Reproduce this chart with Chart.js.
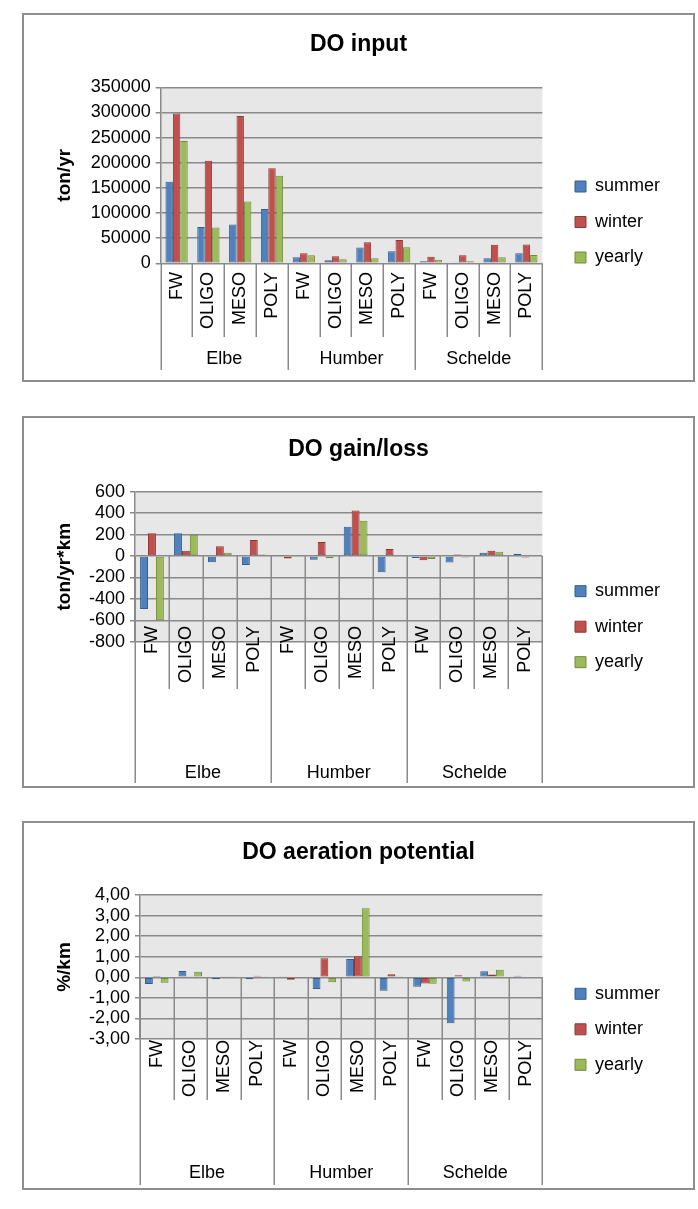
<!DOCTYPE html>
<html>
<head>
<meta charset="utf-8">
<script src="https://cdn.jsdelivr.net/npm/chart.js@4.4.1/dist/chart.umd.min.js"></script>
<style>
  html, body { margin: 0; padding: 0; background: #fff; width: 698px; height: 1209px; overflow: hidden; }
  .box { position: absolute; left: 22px; width: 673px; border: 2px solid #8e8e8e; box-sizing: border-box; background: #fff; }
  .box canvas { position: absolute; left: 0; top: 0; }
</style>
</head>
<body>
<div class="box" style="top:13px;height:369px"><canvas id="c1" width="669" height="365"></canvas></div>
<div class="box" style="top:416px;height:372px"><canvas id="c2" width="669" height="368"></canvas></div>
<div class="box" style="top:821px;height:369px"><canvas id="c3" width="669" height="365"></canvas></div>
<script>
// ---------- data ----------
const stages = ['FW', 'OLIGO', 'MESO', 'POLY'];
const estuaries = ['Elbe', 'Humber', 'Schelde'];
const seriesNames = ['summer', 'winter', 'yearly'];

// DO input (ton/yr)
const inputSummer = [162000, 72000, 77000, 108000, 12000, 6000, 31500, 24000, 4000, 2000, 10000, 20000];
const inputWinter = [298000, 204000, 293000, 189000, 20000, 14000, 42000, 46500, 13000, 16000, 37000, 37500];
const inputYearly = [243000, 71000, 123000, 174000, 16000, 8000, 10000, 32000, 7000, 4000, 12000, 16500];
const inputAxis = [0, 350000, 50000];      // min, max, step

// DO gain/loss (ton/yr*km)
const gainSummer = [-495, 212, -58, -84, 9, -35, 273, -151, -18, -60, 30, 20];
const gainWinter = [212, 48, 91, 149, -23, 130, 425, 66, -40, 15, 50, -14];
const gainYearly = [-600, 198, 31, 13, -4, -22, 328, 6, -27, -13, 40, -8];
const gainAxis = [-800, 600, 200];

// DO aeration potential (%/km)
const aerSummer = [-0.33, 0.30, -0.09, -0.09, 0.03, -0.57, 0.89, -0.65, -0.46, -2.23, 0.29, 0.08];
const aerWinter = [0.06, 0.02, 0.05, 0.08, -0.12, 0.93, 1.02, 0.15, -0.30, 0.10, 0.13, -0.03];
const aerYearly = [-0.26, 0.27, 0.02, 0.02, -0.02, -0.24, 3.35, 0.02, -0.32, -0.21, 0.37, -0.03];
const aerAxis = [-3, 4, 1];

// ---------- styles ----------
const fills = ['#4F81BD', '#C0504D', '#9BBB59'];
const borders = ['#385D8A', '#8C3836', '#71893F'];
const GRID = '#8a8a8a';
const FONT = '"Liberation Sans", Arial, sans-serif';
const LEGEND_LEFT = 533.5;   // canvas x where legend box starts

Chart.defaults.font.family = FONT;
Chart.defaults.font.size = 18;
Chart.defaults.color = '#000';

const excelAxis = {
  id: 'excelAxis',
  beforeDraw(chart, args, o) {
    const { ctx, chartArea: a } = chart;
    ctx.save();
    ctx.fillStyle = o.plotBg;
    ctx.fillRect(a.left, a.top, a.right - a.left, a.bottom - a.top);
    ctx.restore();
  },
  afterDraw(chart, args, o) {
    const { ctx, chartArea: a } = chart;
    const x = chart.scales.x, y = chart.scales.y;
    const n = chart.data.labels.length;
    const step = x.getPixelForValue(1) - x.getPixelForValue(0);
    const x0 = x.getPixelForValue(0) - step / 2;
    const y0 = y.getPixelForValue(0);
    ctx.save();
    ctx.strokeStyle = GRID;
    ctx.lineWidth = 1.5;
    for (let i = 0; i <= n; i++) {
      const px = Math.round(x0 + i * step) + 0.25;
      const grp = i % stages.length === 0;
      ctx.beginPath();
      ctx.moveTo(px, y0);
      ctx.lineTo(px, a.bottom + (grp ? o.groupEnd : o.innerEnd));
      ctx.stroke();
    }
    ctx.fillStyle = '#000';
    ctx.font = '18px ' + FONT;
    ctx.textAlign = 'right';
    ctx.textBaseline = 'middle';
    chart.data.labels.forEach((lab, i) => {
      ctx.save();
      ctx.translate(x.getPixelForValue(i), a.bottom + o.labelTop);
      ctx.rotate(-Math.PI / 2);
      ctx.fillText(lab[0], 0, 0);
      ctx.restore();
    });
    ctx.textAlign = 'center';
    estuaries.forEach((e, g) => {
      const cx = x0 + (g + 0.5) * stages.length * step;
      ctx.fillText(e, cx, a.bottom + o.groupLabelY);
    });
    ctx.restore();
  }
};

function build(id, o) {
  const labels = estuaries.flatMap(e => stages.map(s => [s, e]));
  const canvas = document.getElementById(id);
  const cssW = canvas.width;
  return new Chart(canvas, {
    type: 'bar',
    data: {
      labels,
      datasets: o.series.map((vals, k) => ({
        label: seriesNames[k],
        data: vals,
        backgroundColor: fills[k],
        borderColor: borders[k],
        borderWidth: 1,
        borderSkipped: false,
        categoryPercentage: 0.7,
        barPercentage: 1,
        xAxisID: 'x',
        yAxisID: 'y'
      }))
    },
    options: {
      responsive: false,
      animation: false,
      events: [],
      layout: { padding: 0 },
      plugins: {
        tooltip: { enabled: false },
        title: {
          display: true, text: o.title, color: '#000',
          font: { size: 23, weight: 'bold' },
          padding: { top: o.titleTop, bottom: o.titleBottom }
        },
        legend: {
          position: 'right', align: 'center',
          title: { display: true, text: '', font: { size: 10, lineHeight: 1 }, padding: { top: o.legendShift - 10, bottom: 0 } },
          labels: { boxWidth: 11, boxHeight: 11, padding: 17.5, font: { size: 18 }, color: '#000' }
        },
        excelAxis: o.axisOpts
      },
      scales: {
        x: {
          type: 'category', offset: true,
          grid: { display: false }, border: { display: false }, ticks: { display: false },
          afterFit: s => { s.height = o.xHeight; }
        },
        y: {
          type: 'linear', position: 'left',
          min: o.axis[0], max: o.axis[1],
          ticks: { stepSize: o.axis[2], autoSkip: false, callback: o.fmt, color: '#000', padding: 5, font: { size: 18 } },
          grid: { color: GRID, lineWidth: 1.5, tickLength: 5, drawTicks: true },
          border: { display: true, color: GRID, width: 1.5 },
          title: { display: true, text: o.yTitle, color: '#000', font: { size: 19, weight: 'bold' }, padding: { top: 29.6, bottom: 0 } },
          afterFit: s => { s.width = o.yWidth; }
        },
        yGap: {
          axis: 'y', type: 'linear', position: 'right', weight: 0, display: false,
          afterFit: s => { s.width = 15.2; }
        },
        yOut: {
          axis: 'y', type: 'linear', position: 'right', weight: 2000, display: false,
          afterFit: s => {
            const lw = (s.chart.legend && s.chart.legend.width) || 112;
            s.width = Math.max(0, cssW - LEGEND_LEFT - lw);
          }
        }
      }
    },
    plugins: [excelAxis]
  });
}

const plain = v => String(v);
const comma = v => Number(v).toFixed(2).replace('.', ',');

build('c1', {
  title: 'DO input', yTitle: 'ton/yr',
  series: [inputSummer, inputWinter, inputYearly],
  axis: inputAxis, fmt: plain,
  titleTop: 16.2, titleBottom: 28.5, yWidth: 136.7, xHeight: 116.7, legendShift: 49,
  axisOpts: { plotBg: '#e7e7e7', labelTop: 8.7, innerEnd: 73.7, groupEnd: 106.7, groupLabelY: 95.7 }
});
build('c2', {
  title: 'DO gain/loss', yTitle: 'ton/yr*km',
  series: [gainSummer, gainWinter, gainYearly],
  axis: gainAxis, fmt: plain,
  titleTop: 17.5, titleBottom: 28.6, yWidth: 111, xHeight: 144.3, legendShift: 49.4,
  axisOpts: { plotBg: '#e7e7e7', labelTop: -15.7, innerEnd: 47.3, groupEnd: 141.3, groupLabelY: 131 }
});
build('c3', {
  title: 'DO aeration potential', yTitle: '%/km',
  series: [aerSummer, aerWinter, aerYearly],
  axis: aerAxis, fmt: comma,
  titleTop: 15.9, titleBottom: 28.5, yWidth: 116, xHeight: 149, legendShift: 47.6,
  axisOpts: { plotBg: '#e7e7e7', labelTop: 1, innerEnd: 61, groupEnd: 146, groupLabelY: 133.7 }
});
</script>
</body>
</html>
